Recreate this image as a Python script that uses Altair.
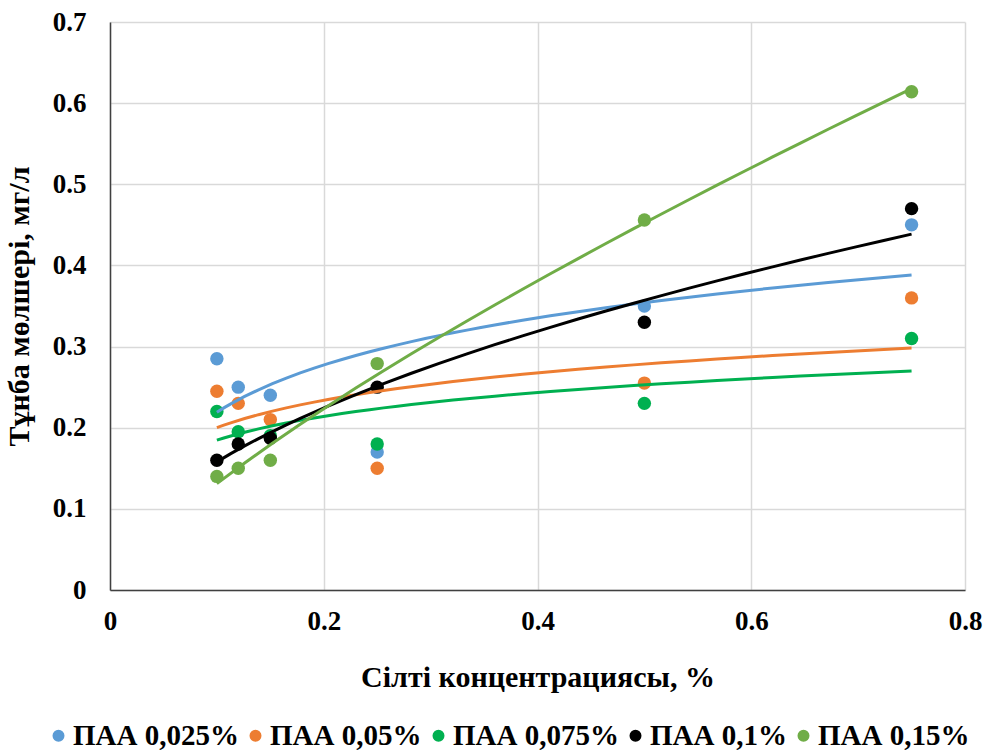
import altair as alt
import pandas as pd

x_vals = [0.1, 0.12, 0.15, 0.25, 0.5, 0.75]
series_names = ["ПАА 0,025%", "ПАА 0,05%", "ПАА 0,075%", "ПАА 0,1%", "ПАА 0,15%"]
paa_0025 = [0.285, 0.25, 0.24, 0.17, 0.35, 0.45]
paa_005 = [0.245, 0.23, 0.21, 0.15, 0.255, 0.36]
paa_0075 = [0.22, 0.195, 0.19, 0.18, 0.23, 0.31]
paa_01 = [0.16, 0.18, 0.187, 0.25, 0.33, 0.47]
paa_015 = [0.14, 0.15, 0.16, 0.279, 0.456, 0.614]
colors = ["#5B9BD5", "#ED7D31", "#00B050", "#000000", "#70AD47"]
log_series = series_names[:3]
pow_series = series_names[3:]

rows = []
for name, vals in zip(series_names, [paa_0025, paa_005, paa_0075, paa_01, paa_015]):
    for xv, yv in zip(x_vals, vals):
        rows.append({"x": xv, "y": yv, "series": name})
df = pd.DataFrame(rows)

FONT = "Liberation Serif"

color_scale = alt.Scale(domain=series_names, range=colors)
x_enc = alt.X("x:Q", scale=alt.Scale(domain=[0, 0.8], nice=False),
              axis=alt.Axis(values=[0, 0.2, 0.4, 0.6, 0.8], format="~g",
                            title="Сілті концентрациясы, %"))
y_enc = alt.Y("y:Q", scale=alt.Scale(domain=[0, 0.7], nice=False),
              axis=alt.Axis(values=[0, 0.1, 0.2, 0.3, 0.4, 0.5, 0.6, 0.7], format="~g",
                            title="Тұнба мөлшері, мг/л"))

base = alt.Chart(df)

points = base.mark_circle(size=180, opacity=1).encode(
    x=x_enc, y=y_enc,
    color=alt.Color("series:N", scale=color_scale, sort=series_names,
                    legend=alt.Legend(title=None, orient="none", legendX=-66, legendY=699,
                                      direction="horizontal", columns=5,
                                      symbolType="circle", symbolSize=110,
                                      labelFont=FONT, labelFontSize=29,
                                      labelFontWeight="bold", labelColor="#000000",
                                      labelOffset=0, columnPadding=2,
                                      labelLimit=400))
)

log_lines = base.transform_filter(
    alt.FieldOneOfPredicate(field="series", oneOf=log_series)
).transform_regression("x", "y", method="log", groupby=["series"]).mark_line(strokeWidth=3).encode(
    x="x:Q", y="y:Q",
    color=alt.Color("series:N", scale=color_scale, legend=None)
)

pow_lines = base.transform_filter(
    alt.FieldOneOfPredicate(field="series", oneOf=pow_series)
).transform_regression("x", "y", method="pow", groupby=["series"]).mark_line(strokeWidth=3).encode(
    x="x:Q", y="y:Q",
    color=alt.Color("series:N", scale=color_scale, legend=None)
)

chart = alt.layer(points, log_lines, pow_lines).properties(
    width=855, height=568,
    autosize=alt.AutoSizeParams(type="none"),
    padding={"left": 110, "top": 22, "right": 18, "bottom": 163},
    background="white",
).configure_view(stroke=None).configure_axis(
    labelFont=FONT, labelFontSize=27, labelFontWeight="bold", labelColor="#000000",
    titleFont=FONT, titleFontSize=30, titleFontWeight="bold", titleColor="#000000",
    gridColor="#d9d9d9", gridWidth=1.5, ticks=False, labelFlush=False,
    domainColor="#404040", domainWidth=1.5,
).configure_axisX(
    labelPadding=18, titlePadding=28,
).configure_axisY(
    labelPadding=24, titlePadding=18,
)

chart.save("out.html", embed_options={"renderer": "svg", "actions": False})
